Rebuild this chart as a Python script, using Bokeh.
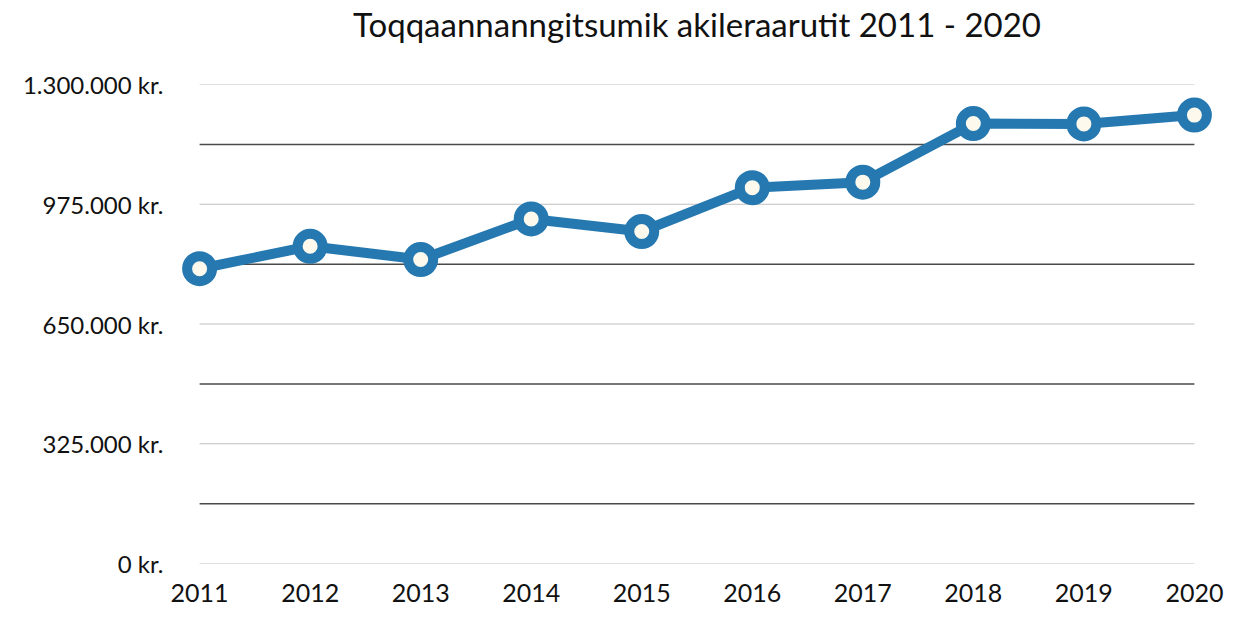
from bokeh.plotting import figure
from bokeh.models import FixedTicker, Range1d, LinearAxis
from bokeh.embed import file_html
from bokeh.resources import INLINE

years = [2011, 2012, 2013, 2014, 2015, 2016, 2017, 2018, 2019, 2020]
values = [800000, 861000, 825000, 935000, 901000, 1020000, 1035000, 1194000, 1193000, 1217000]
y_ticks = [0, 325000, 650000, 975000, 1300000]
y_tick_labels = ["0 kr.", "325.000 kr.", "650.000 kr.", "975.000 kr.", "1.300.000 kr."]
y_half_ticks = [162500, 487500, 812500, 1137500]
title_text = "Toqqaannanngitsumik akileraarutit 2011 - 2020"

FONT = "Lato"
LINE = "#2679B0"

p = figure(width=1236, height=621, output_backend="svg", toolbar_location=None,
           x_range=Range1d(2010.8, 2020.2), y_range=Range1d(0, 1300000),
           min_border_left=177, min_border_right=20, min_border_bottom=58, min_border_top=83)
p.outline_line_color = None
p.xgrid.grid_line_color = None
p.ygrid.grid_line_color = None

x_axis = p.below[0]
y_axis = p.left[0]

# chart title carried by an empty axis above the frame
top_axis = LinearAxis(ticker=FixedTicker(ticks=[]), axis_label=title_text,
                      axis_line_color=None, major_tick_line_color=None, minor_tick_line_color=None,
                      major_tick_out=0, major_label_text_font_size="0px",
                      axis_label_text_font=FONT, axis_label_text_font_size="33px",
                      axis_label_text_font_style="normal", axis_label_text_color="#111111",
                      axis_label_standoff=41)
p.add_layout(top_axis, "above")

# grid lines drawn between first and last year
p.segment(x0=[years[0]] * len(y_ticks), x1=[years[-1]] * len(y_ticks), y0=y_ticks, y1=y_ticks,
          line_color="#BFBFBF", line_width=1.2)
p.segment(x0=[years[0]] * len(y_half_ticks), x1=[years[-1]] * len(y_half_ticks), y0=y_half_ticks, y1=y_half_ticks,
          line_color="#4A4A4A", line_width=1.5)

p.line(years, values, line_color=LINE, line_width=10, line_join="round")
p.scatter(years, values, size=25, fill_color="#FDF9EC", line_color=LINE, line_width=10)

y_axis.ticker = FixedTicker(ticks=y_ticks)
y_axis.major_label_overrides = {t: l for t, l in zip(y_ticks, y_tick_labels)}
x_axis.ticker = FixedTicker(ticks=years)
x_axis.major_label_overrides = {y: str(y) for y in years}
for ax in (x_axis, y_axis):
    ax.axis_line_color = None
    ax.major_tick_line_color = None
    ax.minor_tick_line_color = None
    ax.major_label_text_font = FONT
    ax.major_label_text_color = "#111111"
y_axis.major_label_text_font_size = "24px"
x_axis.major_label_text_font_size = "25px"
y_axis.major_label_standoff = 8
x_axis.major_label_standoff = 14

open("out.html", "w").write(file_html(p, INLINE))
